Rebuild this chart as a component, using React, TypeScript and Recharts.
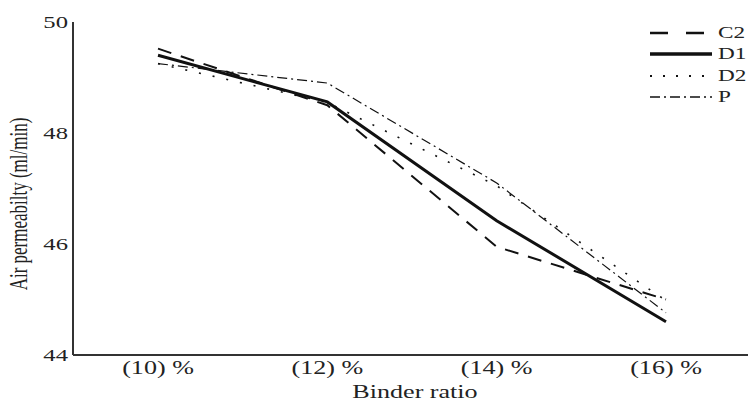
import { LineChart, Line, XAxis, YAxis } from 'recharts'

const categories = ['(10) %', '(12) %', '(14) %', '(16) %']
const c2 = [49.52, 48.5, 45.95, 45.0]
const d1 = [49.4, 48.56, 46.42, 44.6]
const d2 = [49.25, 48.55, 47.05, 44.98]
const p = [49.25, 48.9, 47.1, 44.76]
const yTicks = [44, 46, 48, 50]

const seriesStyle = [
  { key: 'C2', width: 2, dash: '14 10', legendDash: '18 18' },
  { key: 'D1', width: 3, dash: undefined, legendDash: undefined },
  { key: 'D2', width: 1.6, dash: '2 12', legendDash: '2 11' },
  { key: 'P', width: 1.2, dash: '10 4 2 4', legendDash: '10 4 2 4' }
]

const data = categories.map((name, i) => ({
  name,
  C2: c2[i],
  D1: d1[i],
  D2: d2[i],
  P: p[i]
}))

const font = '"Liberation Serif", "Times New Roman", serif'
// the reference type is stretched wide
const stretch = 1.45

function XTick({ x, y, payload }: any) {
  return (
    <text transform={`translate(${x},${y}) scale(${stretch},1)`} textAnchor="middle" dy={16} fill="#222" style={{ fontFamily: font, fontSize: 18 }}>
      {payload.value}
    </text>
  )
}

function YTick({ x, y, payload }: any) {
  return (
    <text transform={`translate(${x},${y}) scale(${stretch},1)`} textAnchor="end" dy="0.35em" fill="#222" style={{ fontFamily: font, fontSize: 17 }}>
      {payload.value}
    </text>
  )
}

function XLabel() {
  return (
    <text transform={`translate(415,398) scale(${stretch},1)`} textAnchor="middle" fill="#222" style={{ fontFamily: font, fontSize: 18 }}>
      Binder ratio
    </text>
  )
}

function YLabel() {
  return (
    <text transform={`translate(27,204) scale(${stretch},1) rotate(-90)`} textAnchor="middle" fill="#222" style={{ fontFamily: font, fontSize: 17 }}>
      Air permeabilty (ml/min)
    </text>
  )
}

function LegendBox() {
  return (
    <div style={{ position: 'absolute', top: 22, left: 650, fontFamily: font, fontSize: 16, color: '#222' }}>
      {seriesStyle.map((s) => (
        <div key={s.key} style={{ display: 'flex', alignItems: 'center', height: 21.5 }}>
          <svg width={66} height={10}>
            <line x1={0} y1={5} x2={62} y2={5} stroke="#111" strokeWidth={s.width + 0.5} strokeDasharray={s.legendDash} />
          </svg>
          <span style={{ display: 'inline-block', transform: `scaleX(${stretch})`, transformOrigin: 'left center', marginLeft: 2 }}>{s.key}</span>
        </div>
      ))}
    </div>
  )
}

export default function App() {
  return (
    <div style={{ position: 'absolute', left: 0, top: 0, width: 750, height: 403, background: '#fff', fontFamily: font }}>
      <LineChart width={750} height={403} data={data} margin={{ top: 22, right: 2, bottom: 0, left: 0 }}>
        <XAxis
          dataKey="name"
          height={48}
          padding={{ left: 85, right: 82 }}
          tickLine={false}
          tickSize={0}
          tickMargin={3}
          axisLine={{ stroke: '#333', strokeWidth: 2 }}
          tick={<XTick />}
          label={<XLabel />}
        />
        <YAxis
          width={73}
          domain={[44, 50]}
          ticks={yTicks}
          tickLine={false}
          tickSize={0}
          tickMargin={5}
          axisLine={{ stroke: '#333', strokeWidth: 2 }}
          tick={<YTick />}
          label={<YLabel />}
        />
        {seriesStyle.map((s) => (
          <Line
            key={s.key}
            type="linear"
            dataKey={s.key}
            stroke="#111"
            strokeWidth={s.width}
            strokeDasharray={s.dash}
            dot={false}
            activeDot={false}
            isAnimationActive={false}
          />
        ))}
      </LineChart>
      <LegendBox />
    </div>
  )
}
